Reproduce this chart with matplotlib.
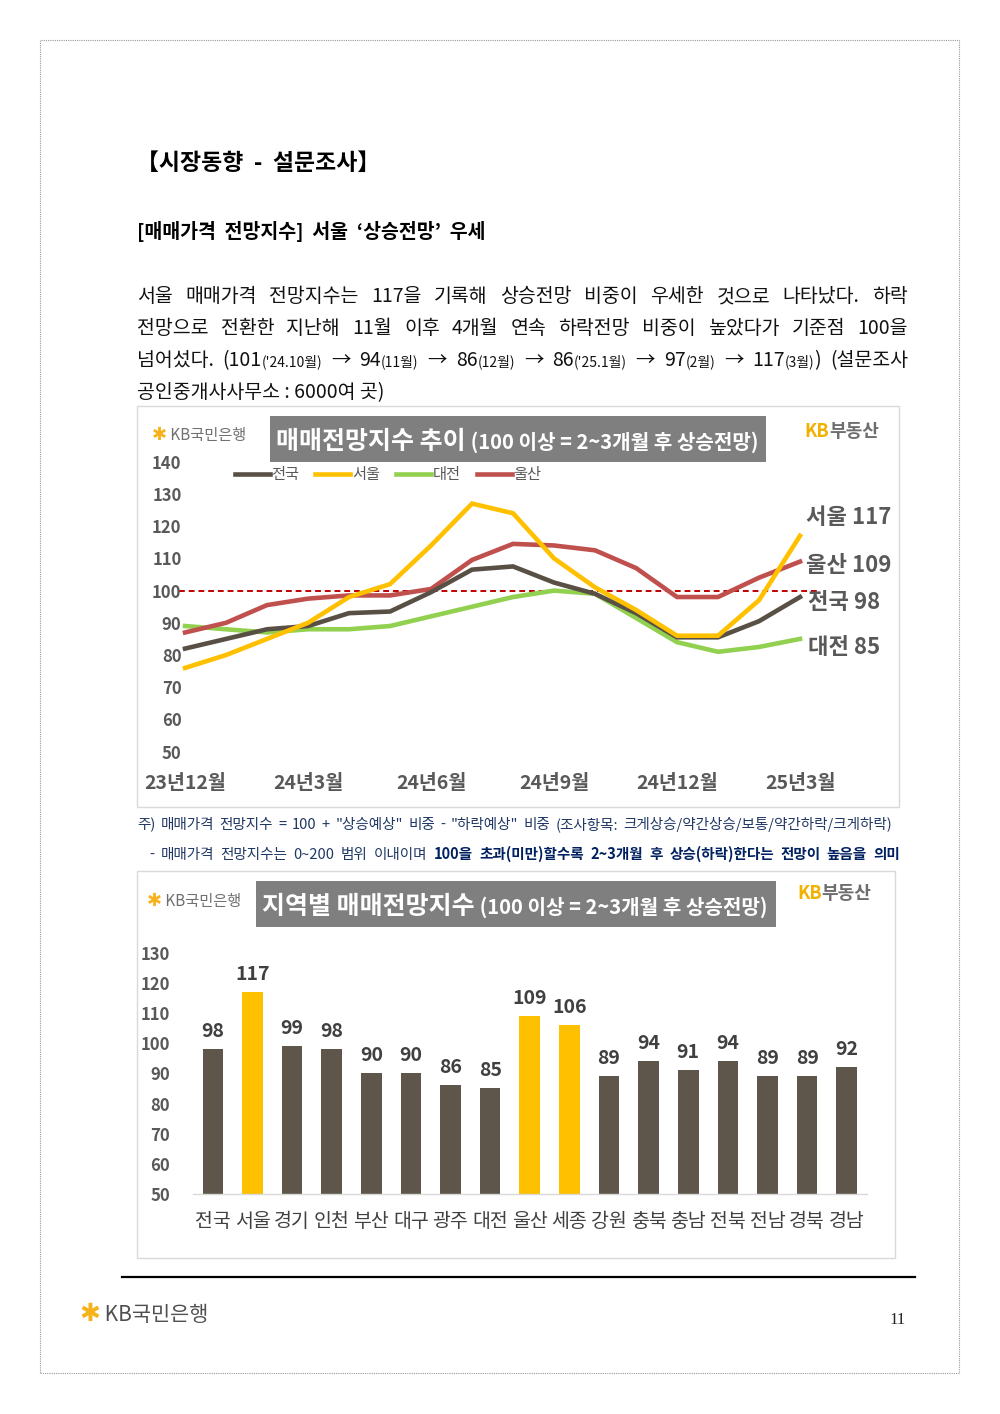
import numpy as np
import matplotlib.pyplot as plt
from matplotlib.patches import Rectangle
from matplotlib.lines import Line2D

plt.rcParams['font.family'] = ['Noto Sans CJK KR', 'DejaVu Sans']

W, H = 1000, 1414

# ---- line chart data (매매전망지수 추이) ----
months = ['23년12월', '24년1월', '24년2월', '24년3월', '24년4월', '24년5월', '24년6월',
          '24년7월', '24년8월', '24년9월', '24년10월', '24년11월', '24년12월',
          '25년1월', '25년2월', '25년3월']
tick_idx = [0, 3, 6, 9, 12, 15]
nat = [82, 85, 88, 89, 93, 93.5, 99.5, 106.5, 107.5, 102.5, 99, 93, 85.5, 85.5, 90.5, 98]
seoul = [76, 80, 85, 90, 98, 102, 114, 127, 124, 110, 101, 94, 86, 86, 97, 117]
daejeon = [89, 88, 87, 88, 88, 89, 92, 95, 98, 100, 99, 91.5, 84, 81, 82.5, 85]
ulsan = [87, 90, 95.5, 97.5, 98.5, 98.5, 100.5, 109.5, 114.5, 114, 112.5, 107, 98, 98, 104, 109]
series_names = ['전국', '서울', '대전', '울산']
series_colors = ['#595045', '#FFC000', '#92D050', '#C0504D']
base_line = 100

# ---- bar chart data (지역별 매매전망지수) ----
regions = ['전국', '서울', '경기', '인천', '부산', '대구', '광주', '대전', '울산',
           '세종', '강원', '충북', '충남', '전북', '전남', '경북', '경남']
region_vals = [98, 117, 99, 98, 90, 90, 86, 85, 109, 106, 89, 94, 91, 94, 89, 89, 92]
highlight = ['서울', '울산', '세종']

GRAY = '#595959'
NAVY = '#203864'


def fx(x):
    return x / W


def fy(y):
    return 1 - y / H


def axes_px(l, t, r, b):
    return fig.add_axes([l / W, 1 - b / H, (r - l) / W, (b - t) / H])


def box(l, t, r, b, **kw):
    fig.add_artist(Rectangle((fx(l), fy(b)), (r - l) / W, (b - t) / H,
                             transform=fig.transFigure, **kw))


fig = plt.figure(figsize=(10, 14.14), dpi=100, facecolor='white')
renderer = fig.canvas.get_renderer()


def width(t):
    return t.get_window_extent(renderer).width


def run(pieces, x, y, va='baseline'):
    for s, kw in pieces:
        t = fig.text(fx(x), fy(y), s, va=va, ha='left', **kw)
        x += width(t)
    return x


def justify(words, x0, x1, y):
    arts, total = [], 0
    for w in words:
        ts = []
        for s, kw in w:
            t = fig.text(0, fy(y), s, va='baseline', ha='left', **kw)
            ts.append((t, width(t)))
            total += ts[-1][1]
        arts.append(ts)
    gap = (x1 - x0 - total) / (len(words) - 1)
    x = x0
    for ts in arts:
        for t, wd in ts:
            t.set_x(fx(x))
            x += wd
        x += gap


# page frame
box(40, 40, 959, 1373, facecolor='none', edgecolor='#9A9A9A', lw=0.8, ls=(0, (1, 1)))

# headings and paragraph
fig.text(fx(136), fy(163), '【시장동향  -  설문조사】', fontsize=16.5, fontweight='bold',
         va='center', color='black')
fig.text(fx(137), fy(231), '[매매가격  전망지수]  서울  ‘상승전망’  우세', fontsize=14,
         fontweight='bold', va='center', color='black')

pn = dict(fontsize=14, color='#111111')
ps = dict(fontsize=10, color='#111111')
line1 = '서울 매매가격 전망지수는 117을 기록해 상승전망 비중이 우세한 것으로 나타났다. 하락'
line2 = '전망으로 전환한 지난해 11월 이후 4개월 연속 하락전망 비중이 높았다가 기준점 100을'
justify([[(w, pn)] for w in line1.split()], 137, 908, 302)
justify([[(w, pn)] for w in line2.split()], 137, 908, 334)
line3 = [[('넘어섰다.', pn)], [('(101', pn), ("('24.10월)", ps)], [('→', pn)],
         [('94', pn), ('(11월)', ps)], [('→', pn)], [('86', pn), ('(12월)', ps)], [('→', pn)],
         [('86', pn), ("('25.1월)", ps)], [('→', pn)], [('97', pn), ('(2월)', ps)], [('→', pn)],
         [('117', pn), ('(3월)', ps), (')', pn)], [('(설문조사', pn)]]
justify(line3, 137, 908, 366)
fig.text(fx(137), fy(398), '공인중개사사무소 : 6000여 곳)', va='baseline', **pn)

# ================= line chart =================
box(137, 406, 899, 807, facecolor='none', edgecolor='#D9D9D9', lw=1)
ax = axes_px(183, 445.6, 824.6, 767.8)
ax.set_xlim(-0.05, 15.6)
ax.set_ylim(45, 145)
x = np.arange(len(months))
all_series = [nat, seoul, daejeon, ulsan]
handles = []
for name, vals, col, z in zip(series_names, all_series, series_colors, [4, 5, 2, 3]):
    h, = ax.plot(x, vals, color=col, lw=3.3, zorder=z, clip_on=False,
                 solid_joinstyle='miter')
    handles.append(h)
ax.axhline(base_line, xmin=-0.006, xmax=0.993, color='#C00000', lw=1.4,
           ls=(0, (3, 2)), zorder=1, clip_on=False)
ax.set_yticks(np.arange(50, 141, 10))
ax.set_xticks(tick_idx)
ax.set_xticklabels([months[i] for i in tick_idx])
ax.tick_params(axis='y', length=0, pad=1, labelsize=12, labelcolor=GRAY)
ax.tick_params(axis='x', length=0, pad=4.5, labelsize=14, labelcolor=GRAY)
for lab in ax.get_xticklabels() + ax.get_yticklabels():
    lab.set_fontweight('bold')
for s in ax.spines.values():
    s.set_visible(False)
ax.patch.set_alpha(0)

leg = ax.legend(handles, series_names, ncol=4, loc='center', frameon=False,
                bbox_to_anchor=(fx(388), fy(475)), bbox_transform=fig.transFigure,
                fontsize=11, handlelength=2.3, handletextpad=0.1, columnspacing=1.05)
for t in leg.get_texts():
    t.set_color(GRAY)

end_offsets = {'서울': (4, 13), '울산': (4, -3), '전국': (6, -3.6), '대전': (6, -6.5)}
for name, vals in zip(series_names, all_series):
    dx, dy = end_offsets[name]
    ax.annotate(f'{name} {vals[-1]:.0f}', xy=(x[-1], vals[-1]), xytext=(dx, dy),
                textcoords='offset points', va='center', ha='left', fontsize=16,
                fontweight='bold', color=GRAY, annotation_clip=False)

# title box + logos
box(270, 416, 766, 462, facecolor='#7F7F7F', edgecolor='none')
run([('매매전망지수 추이', dict(fontsize=18, fontweight='bold', color='white')),
     (' (100 이상 = 2~3개월 후 상승전망)', dict(fontsize=14.5, fontweight='bold', color='white'))],
    276, 449)
run([('✱', dict(fontsize=13, color='#F5B21B', fontweight='bold')),
     (' KB국민은행', dict(fontsize=11, color='#707070'))], 152, 440)
run([('KB', dict(fontsize=13, color='#F2B100', fontweight='bold')),
     ('부동산', dict(fontsize=13, color='#6E6E6E', fontweight='bold'))], 804, 437)

# footnotes
fn = dict(fontsize=10.5, color=NAVY)
fb = dict(fontsize=10.5, color='#002060', fontweight='bold')
note1 = '주) 매매가격 전망지수 = 100 + "상승예상" 비중 - "하락예상" 비중 (조사항목: 크게상승/약간상승/보통/약간하락/크게하락)'
justify([[(w, fn)] for w in note1.split()], 137, 892, 829)
note2a = '- 매매가격 전망지수는 0~200 범위 이내이며'
note2b = '100을 초과(미만)할수록 2~3개월 후 상승(하락)한다는 전망이 높음을 의미'
justify([[(w, fn)] for w in note2a.split()] + [[(w, fb)] for w in note2b.split()],
        149, 900, 859)

# ================= bar chart =================
box(137, 871, 895, 1258, facecolor='none', edgecolor='#D9D9D9', lw=1)
bx = axes_px(193, 952.7, 866.5, 1194)
bx.set_xlim(-0.5, len(regions) - 0.5)
bx.set_ylim(50, 130)
bar_cols = ['#FFC000' if r in highlight else '#5E564B' for r in regions]
bars = bx.bar(np.arange(len(regions)), region_vals, width=0.52, color=bar_cols, zorder=2)
bx.bar_label(bars, labels=[f'{v}' for v in region_vals], padding=6, fontsize=14,
             fontweight='bold', color='#404040', clip_on=False)
bx.set_yticks(np.arange(50, 131, 10))
bx.set_xticks(np.arange(len(regions)))
bx.set_xticklabels(regions)
bx.tick_params(axis='y', length=0, pad=16.5, labelsize=12, labelcolor=GRAY)
bx.tick_params(axis='x', length=0, pad=12, labelsize=14, labelcolor='#404040')
for lab in bx.get_yticklabels():
    lab.set_fontweight('bold')
for k in ['top', 'right', 'left']:
    bx.spines[k].set_visible(False)
bx.spines['bottom'].set_color('#D9D9D9')
bx.spines['bottom'].set_linewidth(1)
bx.patch.set_alpha(0)

box(256, 881, 776, 927, facecolor='#7F7F7F', edgecolor='none')
run([('지역별 매매전망지수', dict(fontsize=18, fontweight='bold', color='white')),
     (' (100 이상 = 2~3개월 후 상승전망)', dict(fontsize=14.5, fontweight='bold', color='white'))],
    262, 914)
run([('✱', dict(fontsize=13, color='#F5B21B', fontweight='bold')),
     (' KB국민은행', dict(fontsize=11, color='#707070'))], 147, 906)
run([('KB', dict(fontsize=13, color='#F2B100', fontweight='bold')),
     ('부동산', dict(fontsize=13, color='#6E6E6E', fontweight='bold'))], 797, 899)

# footer
fig.add_artist(Line2D([fx(122), fx(915)], [fy(1277), fy(1277)], color='black', lw=1.6,
                      transform=fig.transFigure))
run([('✱', dict(fontsize=18, color='#F5B21B', fontweight='bold')),
     (' KB국민은행', dict(fontsize=15, color='#505050'))], 79, 1321)
fig.text(fx(906), fy(1320), '11', ha='right', va='center', fontsize=12,
         family='Liberation Serif', color='#222222')

fig.savefig('out.png', dpi=100, facecolor='white')
